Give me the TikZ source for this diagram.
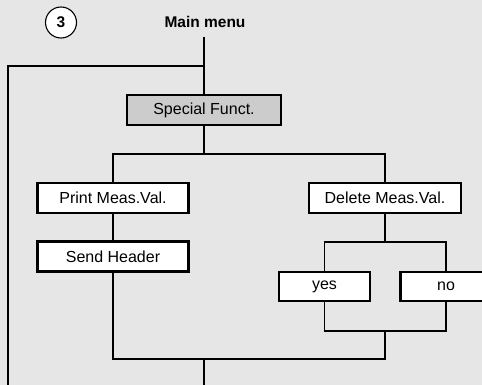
\documentclass[tikz,border=0pt]{standalone}
\usepackage{fontspec}
\setmainfont{Liberation Sans}
\definecolor{pagegray}{HTML}{E6E6E6}
\definecolor{boxgray}{HTML}{CCCCCC}
\begin{document}
\begin{tikzpicture}[
            x=1pt,
            y=-1pt,
            every node/.style={
                font=\fontsize{16}{18}\selectfont,
                inner sep=0pt
            },
            menubox/.style={
                draw,
                fill=white,
                line width=2.2pt,
                minimum height=30pt
            },
            link/.style={
                line width=1.5pt
            }
        ]
            \fill[pagegray] (0,0) rectangle (482,385);
            \clip (0,0) rectangle (482,385);

            \node[circle, draw, fill=white, line width=1.1pt, minimum size=31pt, font=\fontsize{15.5}{18}\selectfont\bfseries] (step3) at (61,22.5) {3};
            \node[font=\fontsize{15.5}{18}\selectfont\bfseries] (mainmenu) at (205,22) {Main menu};

            \node[menubox, fill=boxgray, minimum width=154pt] (special) at (204,110) {Special Funct.};
            \node[menubox, minimum width=151pt] (print) at (113,198) {Print Meas.Val.};
            \node[menubox, minimum width=152pt] (delete) at (385,198) {Delete Meas.Val.};
            \node[menubox, minimum width=151pt] (header) at (113,256.5) {Send Header};
            \node[menubox, minimum width=91pt, minimum height=29pt] (yes) at (324.5,286.5) {yes};
            \node[menubox, minimum width=91pt, minimum height=29pt] (no) at (446,286.5) {no};

            \coordinate (top) at (204,37);
            \coordinate (loop) at (204,66);
            \coordinate (loopend) at (8,385);
            \coordinate (split1) at (204,154);
            \coordinate (split2) at (385,242);
            \coordinate (join2) at (385,331);
            \coordinate (join1) at (204,359);
            \coordinate (bottom) at (204,385);

            \draw[link] (top) -- (special);
            \draw[link] (loopend) |- (loop);
            \draw[link] (special) -- (split1);
            \draw[link] (print) |- (split1) -| (delete);
            \draw[link] (print) -- (header);
            \draw[link] (delete) -- (split2);
            \draw[link] (yes) |- (split2) -| (no);
            \draw[link] (yes) |- (join2) -| (no);
            \draw[link] (header) |- (join1) -| (join2);
            \draw[link] (join1) -- (bottom);
        \end{tikzpicture}
\end{document}
